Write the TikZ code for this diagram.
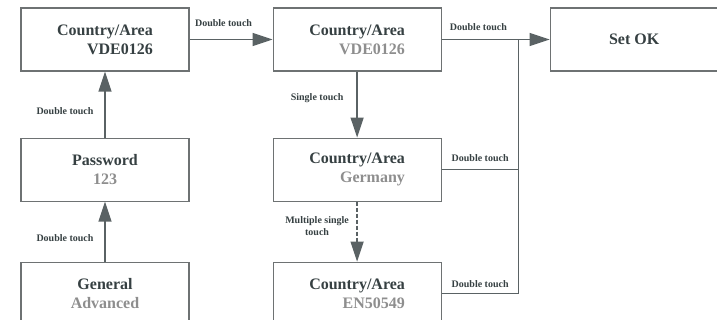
\documentclass[tikz,border=0pt]{standalone}
\usepackage{fontspec}
\setmainfont{Liberation Serif}
\usetikzlibrary{positioning, arrows.meta, calc}
\definecolor{boxline}{HTML}{6E7273}
\definecolor{arrline}{HTML}{5A6264}
\definecolor{txt}{HTML}{364042}
\definecolor{sub}{HTML}{8E8E8E}
\tikzset{
  box/.style={rectangle, minimum width=168pt, minimum height=63pt, align=center, draw=boxline, line width=1.1pt, text=txt, font=\fontsize{16}{19}\selectfont\bfseries},
  arrow/.style={draw=arrline, line width=1.3pt, -{Triangle[length=20pt,width=13pt]}},
  link/.style={draw=arrline, line width=1.3pt},
  lab/.style={text=txt, align=center, font=\fontsize{10}{12}\selectfont\bfseries}
}
\begin{document}
\begin{tikzpicture}[node distance=66pt and 83pt]
        \useasboundingbox (0,0) rectangle (717pt,-320pt);
        \node (area1) [box, align=right] at (105pt,-39.5pt) {Country/Area\\VDE0126};
        \node (pwd) [box, below=of area1] {Password\\\textcolor{sub}{123}};
        \node (general) [box, below=60pt of pwd] {General\\\textcolor{sub}{Advanced}};
        \node (area2) [box, align=right, right=of area1] {Country/Area\\\textcolor{sub}{VDE0126}};
        \node (setok) [box, right=108pt of area2] {Set OK};
        \node (germany) [box, align=right, below=of area2] {Country/Area\\\textcolor{sub}{Germany}};
        \node (en) [box, align=right, below=60pt of germany] {Country/Area\\\textcolor{sub}{EN50549}};
        \coordinate (join) at ($(area2.east)+(77pt,0)$);

        \draw [arrow] (general) -- node[lab, pos=0.4, xshift=-40pt] {Double touch} (pwd);
        \draw [arrow] (pwd) -- node[lab, pos=0.4, xshift=-40pt] {Double touch} (area1);
        \draw [arrow] (area1) -- node[lab, pos=0.41, yshift=16pt] {Double touch} (area2);
        \draw [arrow] (area2) -- node[lab, pos=0.4, xshift=-40pt] {Single touch} (germany);
        \draw [arrow, dash pattern=on 4pt off 2pt] (germany) -- node[lab, pos=0.4, xshift=-40pt] {Multiple single\\touch} (en);
        \draw [arrow] (area2) -- node[lab, pos=0.34, yshift=12pt] {Double touch} (setok);
        \draw [link] (germany) -| node[lab, pos=0.25, yshift=12pt] {Double touch} (join);
        \draw [link] (en) -| node[lab, pos=0.25, yshift=10pt] {Double touch} (join);
\end{tikzpicture}
\end{document}
